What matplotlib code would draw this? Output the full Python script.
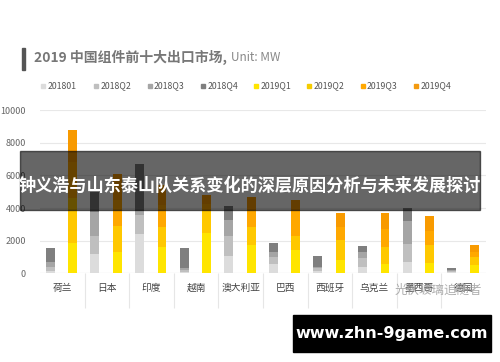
import matplotlib.pyplot as plt
from matplotlib.patches import Rectangle
import numpy as np

plt.rcParams['font.family'] = ['Noto Sans CJK SC', 'DejaVu Sans']

countries = ['荷兰', '日本', '印度', '越南', '澳大利亚', '巴西', '西班牙', '乌克兰', '墨西哥', '德国']
labels_2018 = ['201801', '2018Q2', '2018Q3', '2018Q4']
labels_2019 = ['2019Q1', '2019Q2', '2019Q3', '2019Q4']

# MW per quarter
q1_2018 = [150, 1200, 2430, 80, 1050, 600, 120, 400, 710, 80]
q2_2018 = [250, 1080, 1130, 120, 1250, 380, 180, 520, 1090, 80]
q3_2018 = [300, 1500, 240, 100, 950, 350, 100, 410, 1430, 60]
q4_2018 = [830, 1220, 2900, 1230, 880, 550, 660, 340, 760, 130]

q1_2019 = [1880, 1330, 1630, 2490, 1740, 1400, 810, 600, 610, 500]
q2_2019 = [2720, 1570, 1190, 1350, 1120, 900, 1230, 1000, 1130, 500]
q3_2019 = [2200, 1600, 1380, 400, 1020, 1500, 820, 1100, 850, 300]
q4_2019 = [1950, 1590, 1200, 560, 820, 700, 860, 980, 940, 420]

colors_2018 = ['#dcdcdc', '#bfbfbf', '#a5a5a5', '#7f7f7f']
colors_2019 = ['#ffe500', '#ffc800', '#ffa800', '#f89a00']

fig = plt.figure(figsize=(5, 3.62), dpi=100)
ax = fig.add_axes([0.08, 0.245, 0.892, 0.451])

x = np.arange(len(countries))
w = 0.2

bottom = np.zeros(len(countries))
for vals, c in zip([q1_2018, q2_2018, q3_2018, q4_2018], colors_2018):
    ax.bar(x - 0.27, vals, w, bottom=bottom, color=c, zorder=3)
    bottom += np.array(vals)

bottom = np.zeros(len(countries))
for vals, c in zip([q1_2019, q2_2019, q3_2019, q4_2019], colors_2019):
    ax.bar(x + 0.235, vals, w, bottom=bottom, color=c, zorder=3)
    bottom += np.array(vals)

ax.set_xlim(-0.5, len(countries) - 0.5)
ax.set_ylim(0, 10000)
ax.set_yticks(range(0, 10001, 2000))
ax.grid(True, axis='y', color='#e8e8e8', linewidth=0.8, zorder=0)
for s in ax.spines.values():
    s.set_visible(False)
ax.tick_params(axis='y', length=0, labelsize=6.5, labelcolor='#666666', pad=10)
ax.set_xticks(x)
ax.set_xticklabels(countries, fontsize=7, color='#444444')
ax.tick_params(axis='x', length=0, pad=7)
ax.set_xticks(np.arange(0.5, len(countries) - 0.5, 1), minor=True)
ax.tick_params(axis='x', which='minor', length=25, color='#e6e6e6', width=0.8)
ax.axhline(0, color='#e6e6e6', linewidth=0.8, zorder=2)

# title
fig.patches.append(Rectangle((0.044, 0.807), 0.006, 0.06, transform=fig.transFigure,
                             color='#555555'))
fig.text(0.068, 0.842, '2019 中国组件前十大出口市场,', fontsize=10, fontweight='bold',
         color='#777777', va='center')
fig.text(0.462, 0.840, 'Unit: MW', fontsize=8.5, color='#888888', va='center')

# legend
leg_labels = labels_2018 + labels_2019
leg_colors = colors_2018 + ['#ffe500', '#f5cc00', '#ffa800', '#f39a10']
for i, (lab, c) in enumerate(zip(leg_labels, leg_colors)):
    lx = 0.082 + i * 0.1065
    fig.patches.append(Rectangle((lx, 0.757), 0.008, 0.011, transform=fig.transFigure, color=c))
    fig.text(lx + 0.013, 0.762, lab, fontsize=6.3, color='#555555', va='center')

# watermark
fig.text(0.79, 0.198, '光伏玻璃追随者', fontsize=9, color='#999999', va='center', alpha=0.8)

# banner overlay
fig.patches.append(Rectangle((0.04, 0.42), 0.92, 0.163, transform=fig.transFigure,
                             color='black', alpha=0.6, zorder=10))
fig.text(0.499, 0.487, '钟义浩与山东泰山队关系变化的深层原因分析与未来发展探讨',
         fontsize=12.3, fontweight='bold', color='white', ha='center', va='center', zorder=11)

# site label
fig.patches.append(Rectangle((0.586, 0.028), 0.395, 0.102, transform=fig.transFigure,
                             color='black', zorder=10))
fig.text(0.783, 0.079, 'www.zhn-9game.com', fontsize=11.5, fontweight='bold',
         family='DejaVu Sans', color='white', ha='center', va='center', zorder=11)

fig.savefig('out.png', dpi=100)
